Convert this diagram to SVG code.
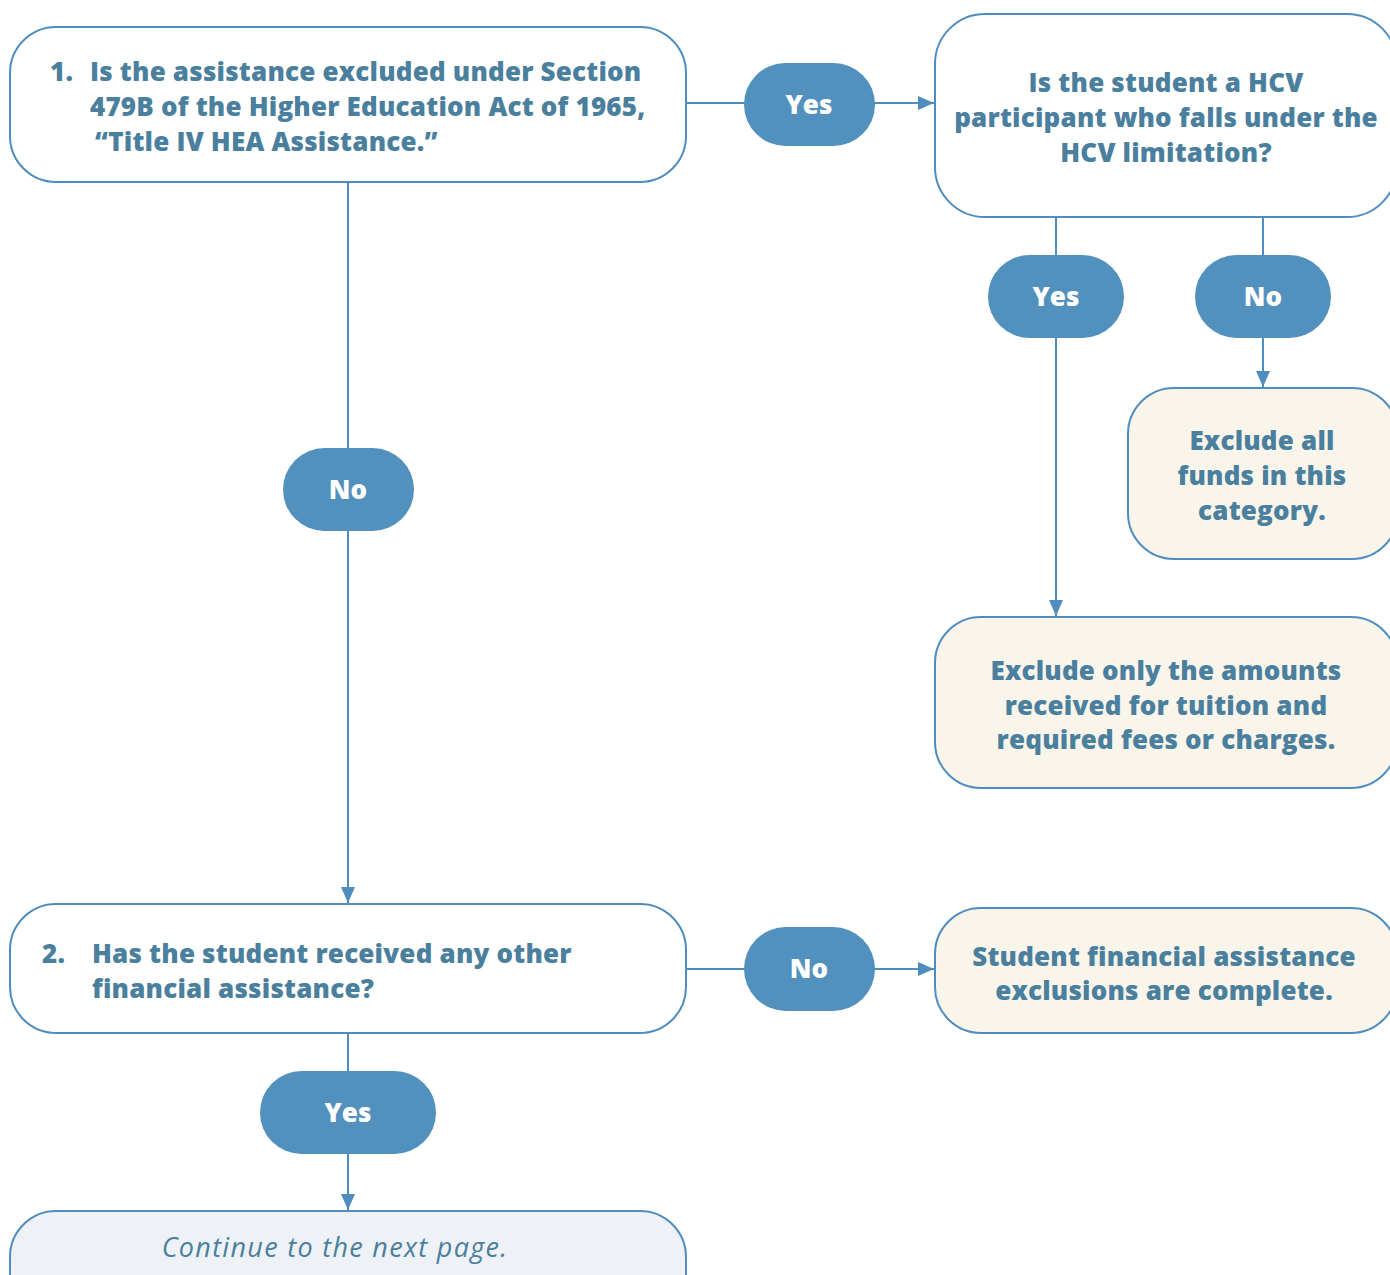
<svg xmlns="http://www.w3.org/2000/svg" width="1390" height="1275" viewBox="0 0 1390 1275">
<style>
.q{fill:#ffffff;stroke:#4f8dbf;stroke-width:2}
.r{fill:#f9f5ea;stroke:#4f8dbf;stroke-width:2}
.c{fill:#eef2f7;stroke:#4f8dbf;stroke-width:2}
.p{fill:#5291be}
.t{font-family:"Open Sans",Lato,sans-serif;font-weight:800;font-size:26px;letter-spacing:0.2px;fill:#4a7f9e}
.pt{font-family:"Open Sans",Lato,sans-serif;font-weight:800;font-size:26px;fill:#ffffff;text-anchor:middle}
.i{font-family:"Open Sans",Lato,sans-serif;font-style:italic;font-size:27px;letter-spacing:1.3px;fill:#4a7f9e;text-anchor:middle}
.m{text-anchor:middle}
.l{fill:none;stroke:#4f8dbf;stroke-width:2}
</style>
<defs>
<marker id="a" markerWidth="16" markerHeight="14" refX="16" refY="7" orient="auto" markerUnits="userSpaceOnUse" viewBox="0 0 16 14">
<path d="M0,0 L16,7 L0,14 z" fill="#4f8dbf"/>
</marker>
</defs>
<g id="connectors">
<line class="l" x1="686" y1="103" x2="934" y2="103" marker-end="url(#a)"/>
<line class="l" x1="348" y1="182" x2="348" y2="903" marker-end="url(#a)"/>
<line class="l" x1="1056" y1="217" x2="1056" y2="616" marker-end="url(#a)"/>
<line class="l" x1="1263" y1="217" x2="1263" y2="387" marker-end="url(#a)"/>
<line class="l" x1="686" y1="969" x2="934" y2="969" marker-end="url(#a)"/>
<line class="l" x1="348" y1="1033" x2="348" y2="1210" marker-end="url(#a)"/>
</g>
<g id="q1">
<rect class="q" x="10" y="27" width="676" height="155" rx="46"/>
<text class="t"><tspan x="50" y="81">1.</tspan><tspan x="90" y="81">Is the assistance excluded under Section</tspan><tspan x="90" y="116">479B of the Higher Education Act of 1965,</tspan><tspan x="95" y="151">“Title IV HEA Assistance.”</tspan></text>
</g>
<g id="yes1">
<rect class="p" x="744" y="63" width="131" height="83" rx="41.5"/>
<text class="pt" x="809" y="114">Yes</text>
</g>
<g id="q-hcv">
<rect class="q" x="935" y="14" width="462" height="203" rx="50"/>
<text class="t m"><tspan x="1166" y="92">Is the student a HCV</tspan><tspan x="1166" y="127">participant who falls under the</tspan><tspan x="1166" y="162">HCV limitation?</tspan></text>
</g>
<g id="yes2">
<rect class="p" x="988" y="255" width="136" height="83" rx="41.5"/>
<text class="pt" x="1056" y="306">Yes</text>
</g>
<g id="no2">
<rect class="p" x="1195" y="255" width="136" height="83" rx="41.5"/>
<text class="pt" x="1263" y="306">No</text>
</g>
<g id="r-all">
<rect class="r" x="1128" y="388" width="270" height="171" rx="46"/>
<text class="t m"><tspan x="1262" y="450">Exclude all</tspan><tspan x="1262" y="485">funds in this</tspan><tspan x="1262" y="520">category.</tspan></text>
</g>
<g id="r-tuition">
<rect class="r" x="935" y="617" width="462" height="171" rx="46"/>
<text class="t m"><tspan x="1166" y="680">Exclude only the amounts</tspan><tspan x="1166" y="715">received for tuition and</tspan><tspan x="1166" y="749">required fees or charges.</tspan></text>
</g>
<g id="no1">
<rect class="p" x="283" y="448" width="131" height="83" rx="41.5"/>
<text class="pt" x="348" y="499">No</text>
</g>
<g id="q2">
<rect class="q" x="10" y="904" width="676" height="129" rx="46"/>
<text class="t"><tspan x="42" y="963">2.</tspan><tspan x="92" y="963">Has the student received any other</tspan><tspan x="92" y="998">financial assistance?</tspan></text>
</g>
<g id="no3">
<rect class="p" x="744" y="927" width="131" height="84" rx="42"/>
<text class="pt" x="809" y="978">No</text>
</g>
<g id="r-complete">
<rect class="r" x="935" y="908" width="462" height="125" rx="46"/>
<text class="t m"><tspan x="1164" y="966">Student financial assistance</tspan><tspan x="1164" y="1000">exclusions are complete.</tspan></text>
</g>
<g id="yes3">
<rect class="p" x="260" y="1071" width="176" height="83" rx="41.5"/>
<text class="pt" x="348" y="1122">Yes</text>
</g>
<g id="continue">
<rect class="c" x="10" y="1211" width="676" height="110" rx="46"/>
<text class="i" x="335" y="1257">Continue to the next page.</text>
</g>
</svg>
